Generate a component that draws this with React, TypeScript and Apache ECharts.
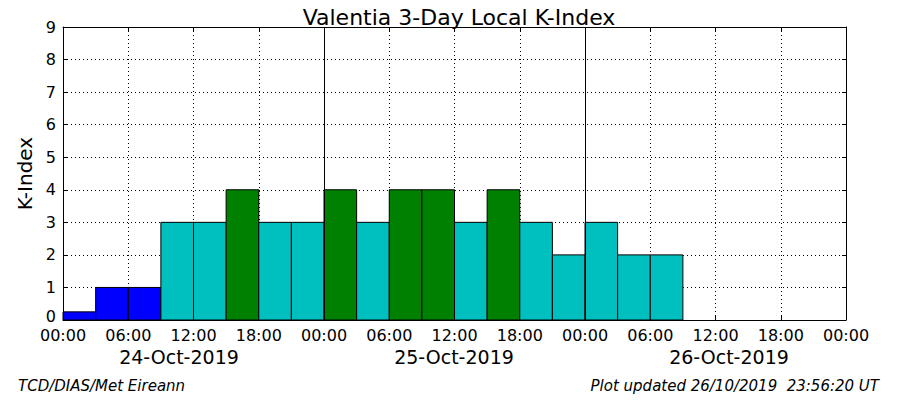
import React, { useEffect, useRef } from "react";
import * as echarts from "echarts";

// Bar start hours (from 24-Oct-2019 00:00 UT), each bar spans 3 hours
const barStartHours = [0, 3, 6, 9, 12, 15, 18, 21, 24, 27, 30, 33, 36, 39, 42, 45, 48, 51, 54];
const kIndexValues = [0.25, 1, 1, 3, 3, 4, 3, 3, 4, 3, 4, 4, 3, 4, 3, 2, 3, 2, 2];
const dayLabels = ["24-Oct-2019", "25-Oct-2019", "26-Oct-2019"];
const dayBoundaries = [24, 48];
const yTicks = [0, 1, 2, 3, 4, 5, 6, 7, 8, 9];

const FONT = "DejaVu Sans";

function colorFor(v: number): string {
  if (v < 2) return "#0000ff";
  if (v < 4) return "#00bfbf";
  return "#008000";
}

export default function App() {
  const ref = useRef<HTMLDivElement>(null);

  useEffect(() => {
    document.body.style.margin = "0";
    if (!ref.current) return;
    const chart = echarts.init(ref.current, null, { renderer: "svg" });

    const data = barStartHours.map((s, i) => [s, s + 3, kIndexValues[i]]);

    const gridLine = { show: true, lineStyle: { color: "#000", type: [1, 3] as any, width: 1 } };

    chart.setOption({
      animation: false,
      backgroundColor: "#fff",
      title: {
        text: "Valentia 3-Day Local K-Index",
        left: 454,
        top: 1,
        textAlign: "center",
        textStyle: { fontFamily: FONT, fontSize: 22, fontWeight: "normal", color: "#000" },
      },
      grid: { left: 63, right: 54, top: 27, bottom: 80 },
      xAxis: [
        {
          type: "value",
          min: 0,
          max: 72,
          interval: 6,
          axisLine: { show: true, onZero: false, lineStyle: { color: "#000", width: 1 } },
          axisTick: { show: true, inside: true, length: 4, lineStyle: { color: "#000" } },
          axisLabel: {
            fontFamily: FONT,
            fontSize: 16,
            lineHeight: 14,
            color: "#000",
            margin: 8,
            formatter: (v: number) => String(v % 24).padStart(2, "0") + ":00",
          },
          splitLine: gridLine,
        },
        {
          type: "value",
          position: "top",
          min: 0,
          max: 72,
          interval: 6,
          axisLine: { show: true, onZero: false, lineStyle: { color: "#000", width: 1 } },
          axisTick: { show: true, inside: true, length: 4, lineStyle: { color: "#000" } },
          axisLabel: { show: false },
          splitLine: { show: false },
        },
      ],
      yAxis: [
        {
          type: "value",
          min: 0,
          max: 9,
          interval: 1,
          name: "K-Index",
          nameLocation: "middle",
          nameGap: 24,
          nameRotate: 90,
          nameTextStyle: { fontFamily: FONT, fontSize: 20, color: "#000" },
          axisLine: { show: true, onZero: false, lineStyle: { color: "#000", width: 1 } },
          axisTick: { show: true, inside: true, length: 4, lineStyle: { color: "#000" } },
          axisLabel: {
            fontFamily: FONT,
            fontSize: 16,
            lineHeight: 10,
            color: "#000",
            margin: 7,
            formatter: (v: number) =>
              yTicks.includes(v) ? (v === 0 ? "{z|0}" : String(v)) : "",
            rich: {
              z: { fontFamily: FONT, fontSize: 16, lineHeight: 10, color: "#000", padding: [0, 0, 8, 0] },
            },
          },
          splitLine: gridLine,
        },
        {
          type: "value",
          position: "right",
          min: 0,
          max: 9,
          interval: 1,
          axisLine: { show: true, onZero: false, lineStyle: { color: "#000", width: 1 } },
          axisTick: { show: true, inside: true, length: 4, lineStyle: { color: "#000" } },
          axisLabel: { show: false },
          splitLine: { show: false },
        },
      ],
      series: [
        {
          type: "custom",
          xAxisIndex: 0,
          yAxisIndex: 0,
          data,
          renderItem: (params: any, api: any) => {
            const s = api.value(0);
            const e = api.value(1);
            const v = api.value(2);
            const p1 = api.coord([s, v]);
            const p2 = api.coord([e, 0]);
            return {
              type: "rect",
              shape: { x: p1[0], y: p1[1], width: p2[0] - p1[0], height: p2[1] - p1[1] },
              style: { fill: colorFor(v), stroke: "#000", lineWidth: 1 },
            };
          },
          markLine: {
            silent: true,
            symbol: "none",
            label: { show: false },
            lineStyle: { color: "#000", type: "solid", width: 1 },
            data: dayBoundaries.map((h) => ({ xAxis: h })),
          },
        },
      ],
      graphic: [
        ...dayLabels.map((t, i) => ({
          type: "text",
          x: [179, 454, 729][i],
          y: 357,
          style: {
            text: t,
            fontFamily: FONT,
            fontSize: 19,
            fill: "#000",
            align: "center",
            verticalAlign: "middle",
          },
        })),
        {
          type: "text",
          x: 18,
          y: 386,
          style: {
            text: "TCD/DIAS/Met Eireann",
            fontFamily: FONT,
            fontSize: 15,
            fontStyle: "italic",
            fill: "#000",
            align: "left",
            verticalAlign: "middle",
          },
        },
        {
          type: "text",
          x: 879,
          y: 386,
          style: {
            text: "Plot updated 26/10/2019  23:56:20 UT",
            fontFamily: FONT,
            fontSize: 15,
            fontStyle: "italic",
            fill: "#000",
            align: "right",
            verticalAlign: "middle",
          },
        },
      ],
    });

    return () => chart.dispose();
  }, []);

  return <div ref={ref} style={{ width: 900, height: 400 }} />;
}
